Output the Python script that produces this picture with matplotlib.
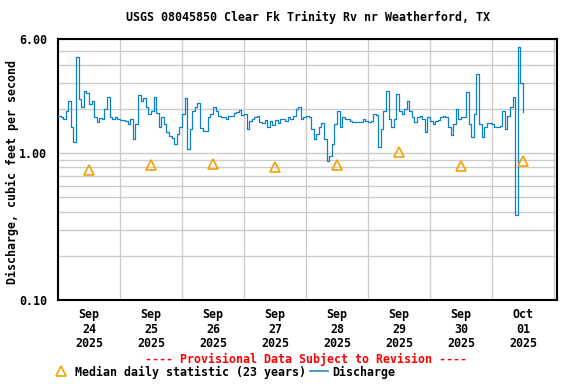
import matplotlib
matplotlib.use("Agg")
import matplotlib.pyplot as plt
import numpy as np
from matplotlib.lines import Line2D
from matplotlib.ticker import LogLocator, FixedLocator, NullFormatter

# Hourly discharge (cfs), starting Sep 24 2025 00:00
discharge = [
    1.79, 1.76, 1.71, 1.94, 2.27, 1.51, 1.19, 4.50, 2.34, 2.07, 2.66, 2.58,
    2.17, 2.27, 1.76, 1.63, 1.74, 1.71, 2.00, 2.42, 1.76, 1.71, 1.76, 1.71,
    1.68, 1.68, 1.66, 1.58, 1.71, 1.25, 1.58, 2.49, 2.27, 2.38, 2.07, 1.85,
    1.94, 2.42, 1.88, 1.51, 1.76, 1.58, 1.39, 1.31, 1.27, 1.15, 1.35, 1.51,
    1.85, 2.38, 1.07, 1.46, 1.94, 2.07, 2.20, 1.49, 1.41, 1.41, 1.76, 1.85,
    2.07, 1.94, 1.79, 1.76, 1.76, 1.71, 1.79, 1.79, 1.88, 1.91, 1.97, 1.82,
    1.85, 1.46, 1.66, 1.71, 1.76, 1.79, 1.63, 1.61, 1.68, 1.51, 1.66, 1.55,
    1.68, 1.61, 1.71, 1.71, 1.66, 1.76, 1.71, 1.79, 2.00, 2.07, 1.71, 1.76,
    1.79, 1.76, 1.46, 1.25, 1.35, 1.51, 1.61, 1.25, 0.88, 0.95, 1.15, 1.58,
    1.94, 1.51, 1.76, 1.71, 1.71, 1.66, 1.63, 1.63, 1.63, 1.63, 1.71, 1.66,
    1.63, 1.66, 1.85, 1.82, 1.10, 1.46, 1.94, 2.66, 1.71, 1.51, 1.71, 2.54,
    1.94, 1.85, 2.00, 2.27, 1.94, 1.76, 1.63, 1.76, 1.79, 1.71, 1.39, 1.76,
    1.66, 1.58, 1.66, 1.68, 1.76, 1.79, 1.76, 1.51, 1.33, 1.58, 2.00, 1.71,
    1.76, 1.76, 2.60, 1.58, 1.29, 1.85, 3.48, 1.58, 1.29, 1.51, 1.61, 1.61,
    1.58, 1.51, 1.51, 1.53, 1.94, 1.46, 1.79, 2.07, 2.42, 0.38, 5.30, 3.00,
    1.90,
]

# Median daily statistic (23 years), at noon of each day
median_daily = [0.77, 0.83, 0.85, 0.81, 0.83, 1.02, 0.82, 0.89]

day_labels = ["Sep\n24\n2025", "Sep\n25\n2025", "Sep\n26\n2025", "Sep\n27\n2025",
              "Sep\n28\n2025", "Sep\n29\n2025", "Sep\n30\n2025", "Oct\n01\n2025"]

ytick_values = [0.1, 1.0, 6.0]
ytick_labels = ["0.10", "1.00", "6.00"]

font = "DejaVu Sans Mono"
fs = 8.4
blue = "#0a80cf"
orange = "#f5a000"

fig = plt.figure(figsize=(5.76, 3.84), dpi=100)
ax = fig.add_axes([58 / 576, 1 - 300 / 384, (557 - 58) / 576, (300 - 39) / 384])

t = np.arange(len(discharge)) / 24.0
ax.plot(t, discharge, color=blue, lw=0.9, drawstyle="steps-post", zorder=3)

t_med = np.arange(len(median_daily)) + 0.5
ax.plot(t_med, median_daily, linestyle="none", marker="^", markersize=7.5,
        markerfacecolor="none", markeredgecolor=orange, markeredgewidth=1.2, zorder=4)

ax.set_yscale("log")
ax.set_ylim(0.1, 6.0)
ax.set_xlim(0, 8.05)

ax.yaxis.set_major_locator(FixedLocator(ytick_values))
ax.set_yticklabels(ytick_labels)
ax.yaxis.set_minor_locator(LogLocator(base=10, subs=np.arange(2, 10)))
ax.yaxis.set_minor_formatter(NullFormatter())

ax.set_xticks(t_med)
ax.set_xticklabels(day_labels, linespacing=1.15)
ax.set_xticks(np.arange(1, 9), minor=True)

ax.grid(True, which="both", axis="y", color="#cccccc", lw=1, zorder=0)
ax.grid(True, which="minor", axis="x", color="#cccccc", lw=1, zorder=0)
ax.tick_params(which="both", length=0)
ax.tick_params(axis="x", pad=6)
ax.tick_params(axis="y", pad=8)
for lab in ax.get_xticklabels() + ax.get_yticklabels():
    lab.set_fontfamily(font)
    lab.set_fontweight("bold")
    lab.set_fontsize(fs)

for s in ax.spines.values():
    s.set_linewidth(1.5)
    s.set_color("black")

ax.set_title("USGS 08045850 Clear Fk Trinity Rv nr Weatherford, TX",
             fontfamily=font, fontweight="bold", fontsize=fs, pad=13)
fig.text(12 / 576, 1 - 172 / 384, "Discharge, cubic feet per second",
         rotation=90, fontfamily=font, fontweight="bold", fontsize=fs,
         ha="center", va="center")

fig.text(306 / 576, 1 - 359 / 384, "---- Provisional Data Subject to Revision ----",
         color="red", fontfamily=font, fontweight="bold", fontsize=fs,
         ha="center", va="center")

handles = [
    Line2D([], [], linestyle="none", marker="^", markersize=7.5,
           markerfacecolor="none", markeredgecolor=orange, markeredgewidth=1.2),
    Line2D([], [], color=blue, lw=1.1),
]
leg = fig.legend(handles, ["Median daily statistic (23 years)", "Discharge"],
                 loc="center", bbox_to_anchor=(224 / 576, 1 - 372 / 384),
                 ncol=2, frameon=False, handlelength=1.5, handletextpad=0.4,
                 columnspacing=0.4, borderpad=0,
                 prop={"family": font, "weight": "bold", "size": fs})

fig.savefig("out.png", dpi=100)
